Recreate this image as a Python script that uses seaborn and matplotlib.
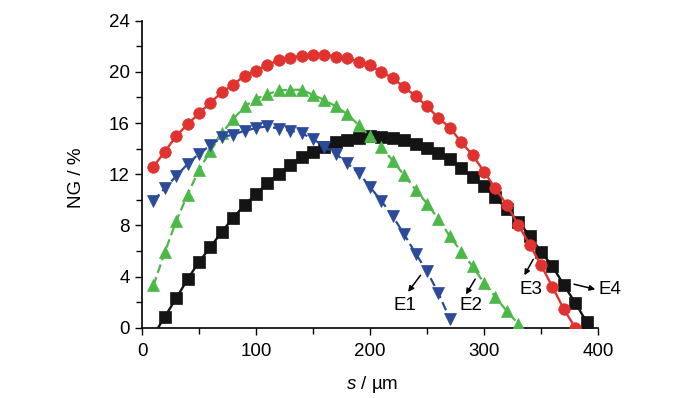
import numpy as np
import pandas as pd
import matplotlib
matplotlib.use("Agg")
import matplotlib.pyplot as plt
import seaborn as sns
from matplotlib.ticker import MultipleLocator

# ---------------- data ----------------
s_e1 = [10, 20, 30, 40, 50, 60, 70, 80, 90, 100, 110, 120, 130, 140, 150, 160, 170, 180,
        190, 200, 210, 220, 230, 240, 250, 260, 270]
ng_e1 = [9.9, 10.9, 11.85, 12.8, 13.6, 14.25, 14.9, 15.1, 15.4, 15.6, 15.75, 15.55, 15.4, 15.2,
         14.75, 14.15, 13.6, 12.85, 12.1, 11.0, 9.9, 8.7, 7.3, 5.8, 4.4, 2.7, 0.7]

s_e2 = [10, 20, 30, 40, 50, 60, 70, 80, 90, 100, 110, 120, 130, 140, 150, 160, 170, 180,
        190, 200, 210, 220, 230, 240, 250, 260, 270, 280, 290, 300, 310, 320, 330]
ng_e2 = [3.3, 5.9, 8.35, 10.4, 12.35, 13.8, 15.2, 16.3, 17.3, 17.9, 18.25, 18.55, 18.6, 18.6,
         18.2, 17.8, 17.3, 16.7, 15.85, 14.95, 14.1, 13.05, 11.9, 10.8, 9.7, 8.5, 7.15, 5.95,
         4.8, 3.5, 2.4, 1.3, 0.3]

s_e3 = [10, 20, 30, 40, 50, 60, 70, 80, 90, 100, 110, 120, 130, 140, 150, 160, 170, 180,
        190, 200, 210, 220, 230, 240, 250, 260, 270, 280, 290, 300, 310, 320, 330, 340,
        350, 360, 370, 380]
ng_e3 = [12.6, 13.75, 15.0, 15.9, 16.75, 17.6, 18.4, 19.0, 19.7, 20.1, 20.55, 20.9, 21.1,
         21.25, 21.3, 21.3, 21.2, 21.05, 20.8, 20.5, 20.0, 19.5, 18.8, 18.1, 17.3, 16.4,
         15.65, 14.5, 13.5, 12.2, 10.9, 9.6, 8.05, 6.5, 4.9, 3.2, 1.45, 0.0]

s_e4 = [10, 20, 30, 40, 50, 60, 70, 80, 90, 100, 110, 120, 130, 140, 150, 160, 170, 180,
        190, 200, 210, 220, 230, 240, 250, 260, 270, 280, 290, 300, 310, 320, 330, 340,
        350, 360, 370, 380, 390]
ng_e4 = [-0.6, 0.86, 2.3, 3.8, 5.15, 6.3, 7.5, 8.6, 9.6, 10.45, 11.3, 12.05, 12.75, 13.35,
         13.75, 14.1, 14.5, 14.7, 14.85, 14.95, 14.9, 14.8, 14.65, 14.4, 14.05, 13.65, 13.15,
         12.5, 11.75, 11.1, 10.2, 9.25, 8.3, 7.2, 5.95, 4.8, 3.35, 1.95, 0.45]

labels = ["E1", "E2", "E3", "E4"]
label_text_xy = [(230.6, 1.7), (289.0, 1.7), (341.5, 2.95), (410.5, 2.95)]
arrow_tail = [(244.3, 4.1), (292.3, 3.8), (343.2, 5.35), (379.0, 3.4)]
arrow_head = [(233.4, 2.8), (284.1, 2.6), (335.4, 4.1), (397.6, 3.0)]

x_ticks = [0, 100, 200, 300, 400]
y_ticks = [0, 4, 8, 12, 16, 20, 24]

# ---------------- style ----------------
sns.set_style("ticks")
plt.rcParams['font.family'] = ['Liberation Sans Narrow', 'Liberation Sans', 'DejaVu Sans']
plt.rcParams['mathtext.fontset'] = 'custom'
plt.rcParams['mathtext.it'] = 'Liberation Sans:italic'
plt.rcParams['mathtext.rm'] = 'Liberation Sans'

fig = plt.figure(figsize=(7.0, 3.98), dpi=100)
ax = fig.add_axes([0.2029, 0.1766, 0.6514, 0.7714])

c_blue = "#2B4A9A"
c_green = "#4CB848"
c_red = "#E0322F"
c_black = "#141414"

df1 = pd.DataFrame({"s": s_e1, "ng": ng_e1})
df2 = pd.DataFrame({"s": s_e2, "ng": ng_e2})
df3 = pd.DataFrame({"s": s_e3, "ng": ng_e3})
df4 = pd.DataFrame({"s": s_e4, "ng": ng_e4})

sns.lineplot(data=df4, x="s", y="ng", ax=ax, sort=False, color=c_black, lw=1.7,
             marker="s", ms=8, mec=c_black, mew=0.5, zorder=3)
sns.lineplot(data=df3, x="s", y="ng", ax=ax, sort=False, color=c_red, lw=1.7,
             marker="o", ms=8.3, mec=c_red, mew=0.5, zorder=4)
sns.lineplot(data=df2, x="s", y="ng", ax=ax, sort=False, color=c_green, lw=1.6,
             linestyle=(0, (4, 2)), marker="^", ms=8.5, mec=c_green, mew=0.5, zorder=3)
sns.lineplot(data=df1, x="s", y="ng", ax=ax, sort=False, color=c_blue, lw=1.6,
             linestyle=(0, (4, 2)), marker="v", ms=8.5, mec=c_blue, mew=0.5, zorder=3)

for lab, txy, tail, head in zip(labels, label_text_xy, arrow_tail, arrow_head):
    ax.text(txy[0], txy[1], lab, ha="center", va="center", fontsize=13.5, color="black")
    ax.annotate("", xy=head, xytext=tail,
                arrowprops=dict(arrowstyle="-|>", color="black", lw=1.1,
                                mutation_scale=8, shrinkA=0, shrinkB=0),
                annotation_clip=False)

ax.set_xlim(0, 400)
ax.set_ylim(0, 24)
ax.set_xticks(x_ticks)
ax.set_yticks(y_ticks)
ax.xaxis.set_minor_locator(MultipleLocator(50))
ax.yaxis.set_minor_locator(MultipleLocator(2))
ax.tick_params(which="both", direction="out", width=1.0, colors="black",
               labelsize=13.5, labelcolor="black")
ax.tick_params(which="major", length=5)
ax.tick_params(which="minor", length=4)
ax.tick_params(axis="y", pad=4)
ax.tick_params(axis="x", pad=6)
for sp in ["top", "right"]:
    ax.spines[sp].set_visible(False)
for sp in ["left", "bottom"]:
    ax.spines[sp].set_linewidth(1.2)
    ax.spines[sp].set_color("black")

ax.set_xlabel("$s$ / µm", fontsize=13.5, color="black")
ax.set_ylabel("NG / %", fontsize=13.5, color="black")
ax.xaxis.set_label_coords(0.505, -0.15)
ax.yaxis.set_label_coords(-0.125, 0.49)

fig.savefig("out.png", dpi=100)
